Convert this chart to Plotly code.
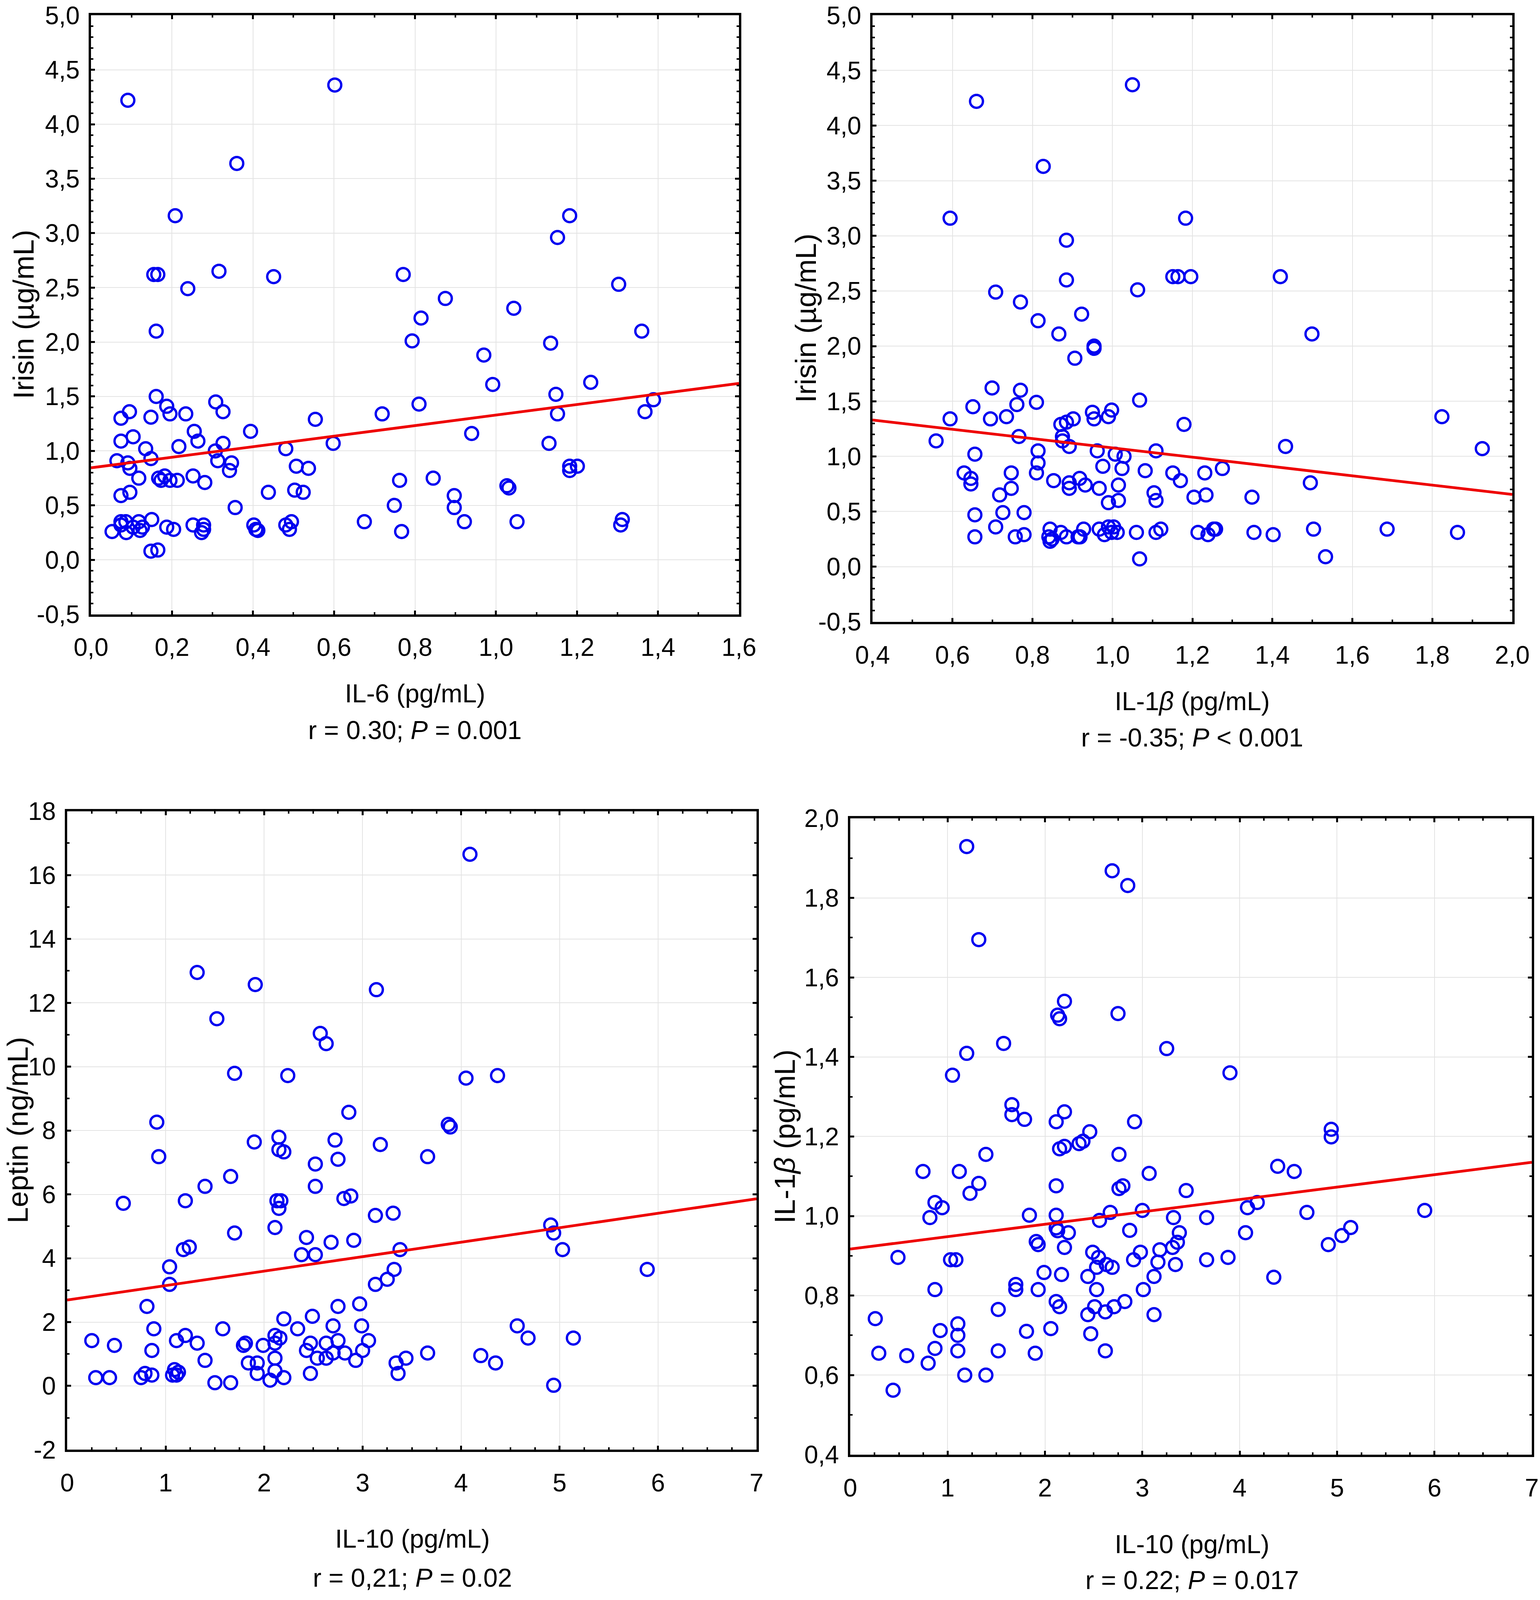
import plotly.graph_objects as go

W, H = 3943, 4282  # reference size, used to place things in paper fractions

# ---- panel 1: IL-6 vs irisin ----
il6 = [0.091, 0.602, 0.36, 0.208, 1.182, 1.152, 0.155, 0.165, 0.316, 0.451, 0.771, 0.239,
       1.303, 0.875, 1.044, 0.815, 0.161, 1.36, 0.793, 1.135, 0.97, 0.992, 1.234, 0.161,
       1.148, 1.389, 0.308, 0.187, 0.81, 0.095, 0.326, 0.195, 0.234, 0.719, 1.152, 1.368,
       0.074, 0.148, 0.554, 0.255, 0.394, 0.104, 0.94, 0.074, 0.264, 0.326, 0.598, 1.131,
       0.217, 0.135, 0.481, 0.307, 0.148, 0.064, 0.313, 0.091, 0.347, 0.096, 0.507, 0.537,
       0.342, 1.182, 1.201, 1.182, 0.118, 0.167, 0.182, 0.173, 0.195, 0.213, 0.252, 0.762,
       0.845, 0.281, 1.027, 1.032, 0.096, 0.074, 0.438, 0.503, 0.524, 0.897, 0.749, 0.356,
       0.897, 0.074, 0.086, 0.074, 0.118, 0.127, 0.104, 0.121, 0.15, 0.187, 0.204, 0.252,
       0.278, 0.278, 0.273, 0.052, 0.087, 0.402, 0.407, 0.412, 0.481, 0.495, 0.49, 0.675,
       0.922, 1.052, 0.767, 1.312, 1.308, 0.148, 0.165]
irisin_a = [4.22, 4.36, 3.64, 3.16, 3.16, 2.96, 2.62, 2.62, 2.65, 2.60, 2.62, 2.49,
            2.53, 2.40, 2.31, 2.22, 2.10, 2.10, 2.01, 1.99, 1.88, 1.61, 1.63, 1.50,
            1.52, 1.47, 1.45, 1.41, 1.43, 1.36, 1.36, 1.34, 1.34, 1.34, 1.34, 1.36,
            1.30, 1.31, 1.29, 1.18, 1.18, 1.13, 1.16, 1.09, 1.09, 1.07, 1.07, 1.07,
            1.04, 1.02, 1.02, 1.00, 0.93, 0.91, 0.91, 0.89, 0.89, 0.84, 0.86, 0.84,
            0.82, 0.86, 0.86, 0.82, 0.75, 0.75, 0.77, 0.73, 0.73, 0.73, 0.77, 0.73,
            0.75, 0.71, 0.68, 0.66, 0.62, 0.59, 0.62, 0.64, 0.62, 0.59, 0.50, 0.48,
            0.48, 0.35, 0.35, 0.32, 0.35, 0.30, 0.30, 0.27, 0.37, 0.30, 0.28, 0.32,
            0.32, 0.28, 0.25, 0.26, 0.25, 0.32, 0.28, 0.27, 0.32, 0.35, 0.28, 0.35,
            0.35, 0.35, 0.26, 0.37, 0.32, 0.08, 0.09]
fit1_x = [0.0, 1.6]
fit1_y = [0.845, 1.62]

# ---- panel 2: IL-1beta vs irisin ----
il1b = [1.05, 0.66, 0.827, 0.594, 1.183, 0.885, 0.885, 1.151, 1.164, 1.196, 1.42, 0.708,
        1.063, 0.77, 0.923, 0.814, 0.866, 1.499, 0.954, 0.954, 0.906, 0.699, 0.77, 1.068,
        0.81, 0.651, 0.761, 0.95, 0.998, 0.594, 0.695, 0.735, 0.954, 0.99, 0.902, 0.885,
        0.871, 1.179, 1.824, 0.766, 0.875, 0.875, 0.559, 0.892, 1.433, 1.925, 0.814, 0.962,
        1.109, 0.656, 1.007, 1.029, 0.814, 0.976, 1.024, 1.275, 1.082, 0.629, 0.747, 0.81,
        1.151, 1.231, 0.646, 0.918, 0.853, 1.17, 0.646, 0.892, 1.495, 0.932, 1.015, 0.747,
        0.892, 0.967, 1.104, 0.718, 1.204, 1.234, 1.349, 1.015, 1.109, 0.99, 0.656, 0.726,
        0.779, 0.708, 0.844, 0.871, 0.928, 0.967, 0.99, 1.003, 0.998, 1.012, 0.98, 1.06,
        1.109, 1.121, 1.214, 1.239, 1.253, 1.258, 1.354, 1.402, 1.503, 1.687, 1.863, 0.656,
        0.757, 0.779, 0.841, 0.849, 0.844, 0.885, 0.914, 0.919, 1.533, 1.068]
irisin_b = [4.37, 4.22, 3.63, 3.16, 3.16, 2.96, 2.60, 2.63, 2.63, 2.63, 2.63, 2.49,
            2.51, 2.40, 2.29, 2.23, 2.11, 2.11, 2.00, 1.98, 1.89, 1.62, 1.60, 1.51,
            1.49, 1.45, 1.47, 1.40, 1.42, 1.34, 1.34, 1.36, 1.34, 1.36, 1.34, 1.31,
            1.29, 1.29, 1.36, 1.18, 1.18, 1.14, 1.14, 1.09, 1.09, 1.07, 1.05, 1.05,
            1.05, 1.02, 1.02, 1.00, 0.94, 0.91, 0.89, 0.89, 0.87, 0.85, 0.85, 0.85,
            0.85, 0.85, 0.80, 0.80, 0.78, 0.78, 0.75, 0.76, 0.76, 0.74, 0.74, 0.71,
            0.71, 0.71, 0.67, 0.65, 0.63, 0.65, 0.63, 0.60, 0.60, 0.58, 0.47, 0.49,
            0.49, 0.36, 0.34, 0.31, 0.34, 0.34, 0.36, 0.36, 0.31, 0.31, 0.29, 0.31,
            0.31, 0.34, 0.31, 0.29, 0.34, 0.34, 0.31, 0.29, 0.34, 0.34, 0.31, 0.27,
            0.27, 0.29, 0.27, 0.25, 0.23, 0.27, 0.27, 0.27, 0.09, 0.07]
fit2_x = [0.4, 2.0]
fit2_y = [1.33, 0.655]

# ---- panel 3: IL-10 vs leptin ----
il10_a = [4.09, 1.32, 1.91, 3.14, 1.52, 2.57, 2.63, 1.70, 2.24, 4.05, 4.37, 2.86,
          0.91, 3.87, 3.89, 2.15, 2.72, 1.90, 3.18, 2.15, 2.20, 0.93, 3.66, 2.75,
          2.52, 1.66, 1.40, 2.52, 2.88, 2.81, 0.57, 1.20, 2.13, 2.17, 2.15, 3.13,
          3.31, 4.91, 4.94, 2.11, 1.70, 2.43, 2.91, 2.68, 1.24, 1.18, 3.38, 5.03,
          2.38, 2.52, 1.04, 3.32, 5.89, 3.25, 1.04, 3.13, 0.81, 2.75, 2.97, 2.20,
          2.49, 0.88, 1.58, 2.34, 2.70, 2.99, 4.57, 1.20, 2.11, 2.16, 4.68, 5.14,
          0.25, 1.11, 2.75, 3.06, 1.32, 1.81, 2.11, 2.47, 2.63, 0.48, 1.79, 1.99,
          0.86, 2.43, 2.70, 2.82, 3.00, 3.66, 4.20, 2.11, 2.54, 2.63, 3.44, 1.40,
          1.84, 1.93, 2.93, 3.34, 4.35, 0.79, 0.86, 1.07, 1.09, 1.11, 1.13, 1.93,
          2.11, 2.47, 3.36, 0.29, 0.43, 0.75, 2.20, 1.50, 1.66, 2.06, 4.94]
leptin = [16.65, 12.95, 12.57, 12.41, 11.50, 11.04, 10.72, 9.79, 9.72, 9.64, 9.72, 8.57,
          8.26, 8.19, 8.11, 7.79, 7.70, 7.64, 7.56, 7.40, 7.33, 7.18, 7.18, 7.10,
          6.95, 6.56, 6.25, 6.25, 5.95, 5.87, 5.72, 5.80, 5.80, 5.80, 5.56, 5.34,
          5.41, 5.04, 4.79, 4.96, 4.79, 4.65, 4.56, 4.50, 4.35, 4.27, 4.27, 4.27,
          4.11, 4.11, 3.73, 3.65, 3.65, 3.34, 3.18, 3.18, 2.49, 2.49, 2.57, 2.10,
          2.18, 1.79, 1.79, 1.79, 1.88, 1.88, 1.88, 1.58, 1.58, 1.50, 1.50, 1.50,
          1.42, 1.42, 1.42, 1.42, 1.34, 1.34, 1.34, 1.34, 1.34, 1.27, 1.27, 1.27,
          1.11, 1.11, 1.03, 1.03, 1.11, 1.03, 0.95, 0.87, 0.87, 0.87, 0.87, 0.80,
          0.72, 0.72, 0.80, 0.72, 0.72, 0.39, 0.34, 0.34, 0.51, 0.34, 0.43, 0.39,
          0.47, 0.39, 0.39, 0.26, 0.26, 0.26, 0.26, 0.10, 0.10, 0.18, 0.02]
fit3_x = [0.0, 7.0]
fit3_y = [2.69, 5.86]

# ---- panel 4: IL-10 vs IL-1beta ----
il10_b = [1.196, 2.69, 2.85, 1.32, 2.20, 2.13, 2.15, 2.75, 1.575, 3.25, 1.196, 3.90,
          1.05, 1.66, 1.66, 1.79, 2.115, 2.20, 2.92, 4.94, 4.94, 2.46, 2.35, 2.39,
          2.15, 2.20, 1.393, 2.76, 0.747, 1.12, 4.39, 4.56, 3.07, 1.32, 1.23, 2.115,
          2.76, 2.80, 3.45, 0.87, 0.944, 0.818, 1.84, 2.115, 2.56, 2.67, 3.00, 3.32,
          3.66, 4.08, 4.18, 4.69, 5.90, 2.115, 2.13, 2.24, 2.87, 3.38, 4.06, 5.14,
          5.05, 4.91, 1.91, 1.93, 3.36, 2.20, 3.31, 3.18, 2.49, 2.98, 0.49, 1.03,
          1.085, 2.55, 2.91, 3.66, 3.88, 3.16, 3.34, 2.63, 2.69, 2.53, 1.99, 2.17,
          2.44, 3.12, 4.35, 0.87, 1.70, 1.70, 1.93, 2.53, 3.01, 2.115, 2.15, 2.51,
          2.71, 2.82, 1.52, 2.44, 2.62, 3.12, 0.257, 1.105, 0.924, 1.81, 2.06, 2.47,
          1.105, 0.87, 1.105, 1.52, 1.90, 2.62, 0.293, 0.58, 0.80, 1.176, 1.393, 0.44]
il1b_b = [1.929, 1.868, 1.831, 1.695, 1.540, 1.505, 1.496, 1.509, 1.434, 1.421, 1.409, 1.360,
          1.354, 1.280, 1.255, 1.243, 1.237, 1.262, 1.237, 1.218, 1.199, 1.212, 1.182, 1.188,
          1.169, 1.175, 1.155, 1.155, 1.112, 1.112, 1.125, 1.112, 1.107, 1.082, 1.057, 1.076,
          1.069, 1.076, 1.064, 1.034, 1.021, 0.996, 1.002, 1.002, 0.989, 1.009, 1.014, 0.996,
          0.996, 1.021, 1.034, 1.009, 1.014, 0.970, 0.963, 0.958, 0.964, 0.958, 0.958, 0.971,
          0.951, 0.928, 0.936, 0.928, 0.934, 0.921, 0.921, 0.915, 0.909, 0.909, 0.896, 0.890,
          0.890, 0.896, 0.890, 0.890, 0.896, 0.884, 0.878, 0.878, 0.871, 0.871, 0.858, 0.853,
          0.848, 0.848, 0.846, 0.815, 0.828, 0.815, 0.815, 0.815, 0.815, 0.785, 0.772, 0.772,
          0.772, 0.785, 0.765, 0.752, 0.759, 0.752, 0.742, 0.729, 0.712, 0.710, 0.717, 0.704,
          0.700, 0.667, 0.661, 0.661, 0.655, 0.661, 0.655, 0.649, 0.630, 0.600, 0.600, 0.562]
fit4_x = [0.0, 7.0]
fit4_y = [0.917, 1.135]

# ---- ticks ----
p1_xticks = [0.0, 0.2, 0.4, 0.6, 0.8, 1.0, 1.2, 1.4, 1.6]
p1_xlabels = ["0,0", "0,2", "0,4", "0,6", "0,8", "1,0", "1,2", "1,4", "1,6"]
irisin_ticks = [-0.5, 0.0, 0.5, 1.0, 1.5, 2.0, 2.5, 3.0, 3.5, 4.0, 4.5, 5.0]
irisin_labels = ["-0,5", "0,0", "0,5", "1,0", "1,5", "2,0", "2,5", "3,0", "3,5", "4,0", "4,5", "5,0"]
p2_xticks = [0.4, 0.6, 0.8, 1.0, 1.2, 1.4, 1.6, 1.8, 2.0]
p2_xlabels = ["0,4", "0,6", "0,8", "1,0", "1,2", "1,4", "1,6", "1,8", "2,0"]
il10_ticks = [0, 1, 2, 3, 4, 5, 6, 7]
il10_labels = ["0", "1", "2", "3", "4", "5", "6", "7"]
leptin_ticks = [-2, 0, 2, 4, 6, 8, 10, 12, 14, 16, 18]
leptin_labels = ["-2", "0", "2", "4", "6", "8", "10", "12", "14", "16", "18"]
p4_yticks = [0.4, 0.6, 0.8, 1.0, 1.2, 1.4, 1.6, 1.8, 2.0]
p4_ylabels = ["0,4", "0,6", "0,8", "1,0", "1,2", "1,4", "1,6", "1,8", "2,0"]

FONT = "Liberation Sans, Arial, sans-serif"


def px(x):
    return x / W


def py(y):
    return 1 - y / H


# plot boxes in reference pixels (left, right, top, bottom)
boxes = [(233, 1892, 41, 1644), (2234, 3872, 41, 1664),
         (172, 1937, 2171, 3880), (2177, 3922, 2190, 3893)]


def axis(box, horiz, rng, vals, labels, minor):
    l, r, t, b = box
    d = [px(l), px(r)] if horiz else [py(b), py(t)]
    return dict(
        domain=d, range=rng, tickvals=vals, ticktext=labels,
        showline=True, linewidth=6, linecolor="black", mirror="allticks",
        ticks="inside", ticklen=10, tickwidth=5, tickcolor="black",
        minor=dict(ticks="inside", ticklen=6, tickwidth=4, tickcolor="black",
                   dtick=minor, showgrid=False),
        showgrid=True, gridcolor="#e3e3e3", gridwidth=2,
        zeroline=False, automargin=False, ticklabeloverflow="allow",
        ticklabelstandoff=24 if horiz else 10,
        tickfont=dict(family=FONT, size=64, color="black"),
    )


fig = go.Figure()
panels = [
    (il6, irisin_a, fit1_x, fit1_y),
    (il1b, irisin_b, fit2_x, fit2_y),
    (il10_a, leptin, fit3_x, fit3_y),
    (il10_b, il1b_b, fit4_x, fit4_y),
]
for i, (xs, ys, fx, fy) in enumerate(panels):
    n = "" if i == 0 else str(i + 1)
    fig.add_trace(go.Scatter(
        x=xs, y=ys, mode="markers", xaxis="x" + n, yaxis="y" + n,
        marker=dict(symbol="circle-open", size=33, color="#0000f0",
                    line=dict(width=6, color="#0000f0")),
        showlegend=False, cliponaxis=False))
    fig.add_trace(go.Scatter(
        x=fx, y=fy, mode="lines", xaxis="x" + n, yaxis="y" + n,
        line=dict(color="#ee0000", width=7), showlegend=False))

fig.update_layout(
    autosize=True, margin=dict(l=0, r=0, t=0, b=0),
    paper_bgcolor="white", plot_bgcolor="white",
    xaxis=axis(boxes[0], True, [0, 1.6], p1_xticks, p1_xlabels, 0.1),
    yaxis=axis(boxes[0], False, [-0.5, 5.0], irisin_ticks, irisin_labels, 0.1),
    xaxis2=axis(boxes[1], True, [0.4, 2.0], p2_xticks, p2_xlabels, 0.1),
    yaxis2=axis(boxes[1], False, [-0.5, 5.0], irisin_ticks, irisin_labels, 0.1),
    xaxis3=axis(boxes[2], True, [0, 7], il10_ticks, il10_labels, 0.25),
    yaxis3=axis(boxes[2], False, [-2, 18], leptin_ticks, leptin_labels, 1),
    xaxis4=axis(boxes[3], True, [0, 7], il10_ticks, il10_labels, 0.25),
    yaxis4=axis(boxes[3], False, [0.4, 2.0], p4_yticks, p4_ylabels, 0.1),
)
for k in ["yaxis", "yaxis2", "yaxis3", "yaxis4"]:
    fig.layout[k].anchor = "x" + k[5:]
for k in ["xaxis", "xaxis2", "xaxis3", "xaxis4"]:
    fig.layout[k].anchor = "y" + k[5:]

# axis titles and statistics as text
xt = [("IL-6 (pg/mL)", "r = 0.30; <i>P</i> = 0.001", 1062, 1856, 1954),
      ("IL-1<i>β</i> (pg/mL)", "r = -0.35; <i>P</i> &lt; 0.001", 3052, 1876, 1974),
      ("IL-10 (pg/mL)", "r = 0,21; <i>P</i> = 0.02", 1056, 4118, 4222),
      ("IL-10 (pg/mL)", "r = 0.22; <i>P</i> = 0.017", 3052, 4132, 4229)]
for title, stat, cx, y1, y2 in xt:
    for txt, yy in [(title, y1), (stat, y2)]:
        fig.add_annotation(text=txt, x=px(cx), y=py(yy), xref="paper", yref="paper",
                           showarrow=False, xanchor="center", yanchor="middle",
                           font=dict(family=FONT, size=66, color="black"))

yt = [("Irisin (µg/mL)", 60, 842), ("Irisin (µg/mL)", 2064, 852),
      ("Leptin (ng/mL)", 46, 3025), ("IL-1<i>β</i> (pg/mL)", 2010, 3041)]
for txt, cx, cy in yt:
    fig.add_annotation(text=txt, x=px(cx), y=py(cy), xref="paper", yref="paper",
                       showarrow=False, textangle=-90, xanchor="center", yanchor="middle",
                       font=dict(family=FONT, size=74, color="black"))

fig.write_html("out.html",
               default_width="100vw", default_height="100vh",
               config={"responsive": True, "displayModeBar": False},
               post_script="document.body.style.margin='0';"
                           "document.body.style.overflow='hidden';"
                           "var gd=document.getElementById('{plot_id}');"
                           "setTimeout(function(){Plotly.Plots.resize(gd);},30);")
